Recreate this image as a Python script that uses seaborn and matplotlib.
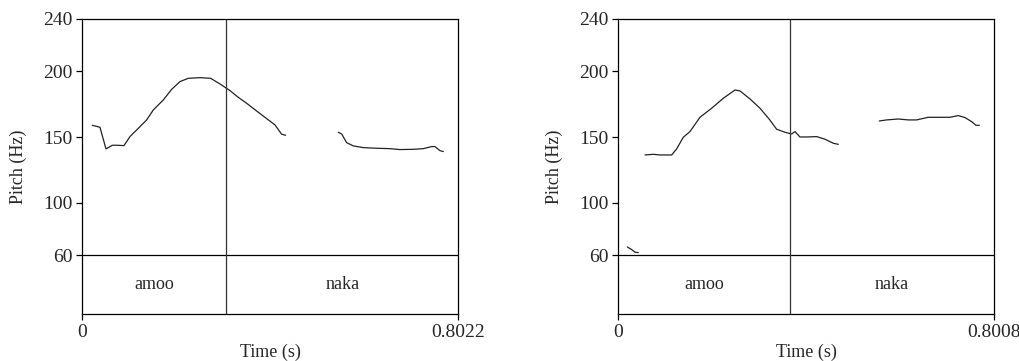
import numpy as np
import pandas as pd
import matplotlib.pyplot as plt
import seaborn as sns

# pitch tracks (time in s, pitch in Hz)
left_duration = 0.8022
left_boundary = 0.307
left_words = ["amoo", "naka"]
left_seg1_t = [0.0213, 0.0377, 0.0505, 0.064, 0.0747, 0.0889, 0.1017, 0.1195, 0.1373, 0.1515, 0.1728,
               0.1906, 0.2084, 0.2261, 0.2510, 0.2738, 0.2937, 0.3151, 0.3328, 0.3506, 0.3719, 0.3933,
               0.4111, 0.4253, 0.4338]
left_seg1_hz = [159.0, 157.5, 141.0, 143.8, 143.8, 143.5, 150.4, 156.7, 163.1, 170.7, 178.3,
                186.4, 192.3, 194.8, 195.3, 194.8, 190.5, 185.4, 180.3, 175.8, 169.9, 164.1,
                159.3, 152.2, 151.4]
left_seg2_t = [0.5462, 0.5533, 0.5640, 0.5782, 0.5995, 0.6279, 0.6564, 0.6777, 0.7062, 0.7275,
               0.7453, 0.7524, 0.7631, 0.7702]
left_seg2_hz = [153.7, 152.4, 145.8, 143.3, 142.0, 141.5, 141.2, 140.5, 140.7, 141.2,
                142.8, 142.8, 139.7, 139.0]

right_duration = 0.8008
right_boundary = 0.3649
right_words = ["amoo", "naka"]
right_seg1_t = [0.0192, 0.0284, 0.0355, 0.0426]
right_seg1_hz = [66.3, 64.3, 62.3, 62.0]
right_seg2_t = [0.0568, 0.0745, 0.0887, 0.1136, 0.1242, 0.1384, 0.1526, 0.1739, 0.1988, 0.2236,
                0.2485, 0.2591, 0.2804, 0.3017, 0.3216, 0.3372, 0.3550, 0.3692, 0.3763, 0.3869,
                0.4011, 0.4224, 0.4402, 0.4579, 0.4686]
right_seg2_hz = [136.4, 136.9, 136.4, 136.4, 141.0, 149.9, 154.2, 165.1, 172.0, 179.6,
                 185.9, 185.2, 179.1, 172.0, 163.6, 156.0, 153.7, 152.4, 154.2, 150.1,
                 150.1, 150.4, 148.4, 145.3, 144.5]
right_seg3_t = [0.5559, 0.5715, 0.5963, 0.6176, 0.6354, 0.6602, 0.6851, 0.7064, 0.7241, 0.7383,
                0.7525, 0.7618, 0.7689]
right_seg3_hz = [162.3, 163.1, 163.8, 163.1, 163.1, 165.1, 165.1, 165.1, 166.4, 164.9,
                 161.8, 159.0, 159.0]

yticks = [60, 100, 150, 200, 240]


def make_df(segs):
    rows = []
    for i, (t, hz) in enumerate(segs):
        for a, b in zip(t, hz):
            rows.append({"seg": i, "time": a, "pitch": b})
    return pd.DataFrame(rows)


left_df = make_df([(left_seg1_t, left_seg1_hz), (left_seg2_t, left_seg2_hz)])
right_df = make_df([(right_seg1_t, right_seg1_hz), (right_seg2_t, right_seg2_hz),
                    (right_seg3_t, right_seg3_hz)])

sns.set_style("ticks")
plt.rcParams['font.family'] = ['Liberation Serif', 'DejaVu Serif']
plt.rcParams['font.size'] = 13

fig = plt.figure(figsize=(10.2, 3.61), dpi=100)
ax1 = fig.add_axes([0.0807, 0.1294, 0.3686, 0.818])
ax2 = fig.add_axes([0.6062, 0.1294, 0.3686, 0.818])

y_bottom = 15
tier_y = 37.9

for ax, df, dur, bnd, words in [(ax1, left_df, left_duration, left_boundary, left_words),
                                (ax2, right_df, right_duration, right_boundary, right_words)]:
    sns.lineplot(data=df, x="time", y="pitch", units="seg", estimator=None,
                 color="#222222", lw=0.9, ax=ax)
    ax.set_xlim(0, dur)
    ax.set_ylim(y_bottom, 240)
    ax.axhline(60, color="black", lw=0.9)
    ax.axvline(bnd, color="#333333", lw=0.9)
    ax.text(bnd / 2, tier_y, words[0], ha="center", va="center", fontsize=13)
    ax.text((bnd + dur) / 2, tier_y, words[1], ha="center", va="center", fontsize=13)
    ax.set_yticks(yticks)
    ax.set_yticklabels([str(v) for v in yticks])
    ax.set_xticks([0, dur])
    ax.set_xticklabels(["0", str(dur)])
    ax.tick_params(length=4, width=0.9, pad=3, labelsize=14, color="black")
    for s in ax.spines.values():
        s.set_visible(True)
        s.set_linewidth(0.9)
        s.set_color("black")
    ax.set_xlabel("Time (s)", fontsize=13, labelpad=2)
    ax.set_ylabel("Pitch (Hz)", fontsize=13, labelpad=12)

fig.savefig("out.png", dpi=100)
